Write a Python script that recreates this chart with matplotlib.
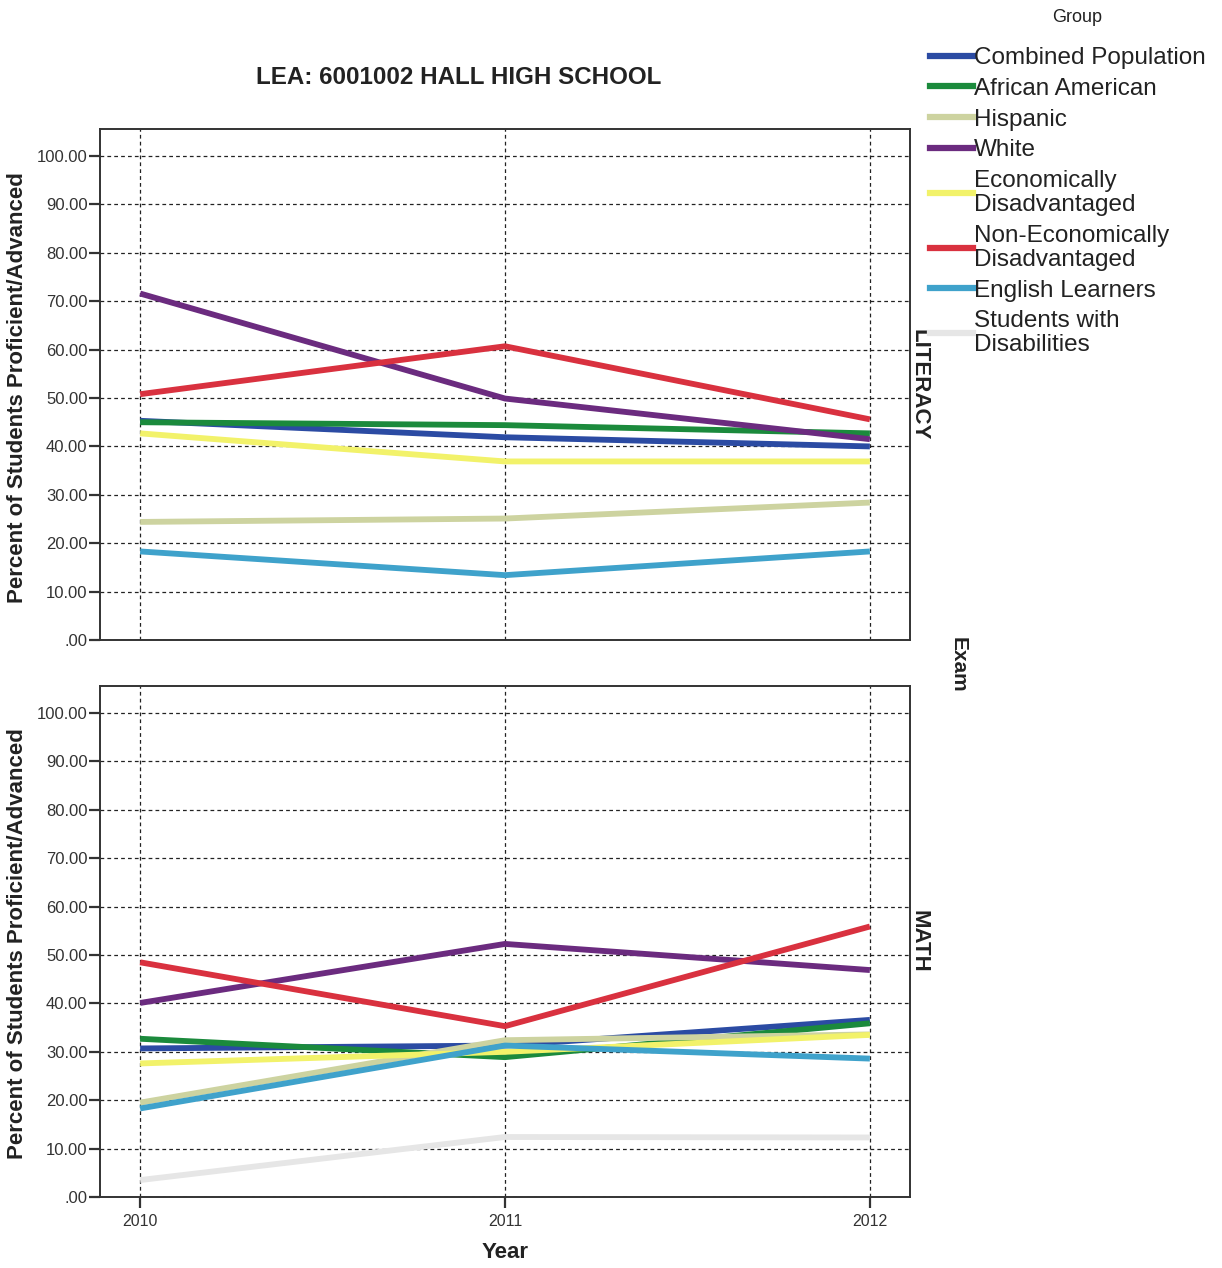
import numpy as np
import matplotlib
matplotlib.use("Agg")
import matplotlib.pyplot as plt
from matplotlib.ticker import FuncFormatter

plt.rcParams['font.family'] = ['Liberation Sans', 'DejaVu Sans']

# ---------------- data ----------------
years = [2010, 2011, 2012]
groups = ["Combined Population", "African American", "Hispanic", "White",
          "Economically\nDisadvantaged", "Non-Economically\nDisadvantaged",
          "English Learners", "Students with\nDisabilities"]
colors = ["#2b4ba3", "#1b8a3c", "#cdd3a0", "#6b2b7f", "#f2f26a",
          "#d9313f", "#3fa2cb", "#e6e6e6"]

lit_combined = [45.3, 41.9, 40.0]
lit_afam = [45.0, 44.4, 42.7]
lit_hisp = [24.4, 25.1, 28.4]
lit_white = [71.6, 49.9, 41.5]
lit_econ = [42.7, 36.9, 36.9]
lit_nonecon = [50.8, 60.7, 45.6]
lit_ell = [18.3, 13.4, 18.3]
lit_swd = [np.nan, np.nan, np.nan]

math_combined = [30.7, 31.3, 36.6]
math_afam = [32.7, 28.9, 35.9]
math_hisp = [19.5, 32.4, 33.6]
math_white = [40.1, 52.3, 46.9]
math_econ = [27.6, 30.0, 33.5]
math_nonecon = [48.5, 35.3, 55.9]
math_ell = [18.3, 31.3, 28.6]
math_swd = [3.5, 12.4, 12.3]

literacy = [lit_combined, lit_afam, lit_hisp, lit_white, lit_econ,
            lit_nonecon, lit_ell, lit_swd]
math = [math_combined, math_afam, math_hisp, math_white, math_econ,
        math_nonecon, math_ell, math_swd]

title = "LEA: 6001002 HALL HIGH SCHOOL"
ylabel = "Percent of Students Proficient/Advanced"

# ---------------- figure ----------------
W, H = 1222, 1268
fig = plt.figure(figsize=(W / 100, H / 100), dpi=100)

def fx(px):
    return px / W

def fy(py):
    return 1 - py / H

ax_lit = fig.add_axes([fx(100), fy(640), fx(910) - fx(100), fy(129) - fy(640)])
ax_math = fig.add_axes([fx(100), fy(1197), fx(910) - fx(100), fy(686) - fy(1197)])

def fmt(v, pos):
    s = f"{v:.2f}"
    if s.startswith("0."):
        s = s[1:]
    return s

for ax, data, lab in [(ax_lit, literacy, "LITERACY"), (ax_math, math, "MATH")]:
    for vals, c in zip(data, colors):
        ax.plot(years, vals, color=c, lw=4.2, solid_capstyle='butt')
    ax.set_xlim(2009.89, 2012.11)
    ax.set_ylim(0, 105.6)
    ax.set_yticks(np.arange(0, 101, 10))
    ax.yaxis.set_major_formatter(FuncFormatter(fmt))
    ax.set_xticks(years)
    ax.grid(True, color="#222222", ls=(0, (3, 2.5)), lw=0.9)
    ax.set_axisbelow(True)
    for s in ax.spines.values():
        s.set_color("#333333")
        s.set_linewidth(1.4)
    ax.tick_params(axis='y', direction='out', length=8, width=1.6,
                   labelsize=12, colors="#333333", pad=1)
    ax.tick_params(axis='x', direction='out', length=8, width=1.6,
                   labelsize=11.5, colors="#333333", pad=4)
    ax.text(1.011, 0.5, lab, transform=ax.transAxes, rotation=-90,
            ha='center', va='center', fontsize=16, fontweight='bold',
            color="#222222")

ax_lit.tick_params(axis='x', labelbottom=False, length=0)

fig.text(fx(459), fy(78), title, ha='center', va='center', fontsize=17.4,
         fontweight='bold', color="#222222")
fig.text(fx(18), fy(388), ylabel, rotation=90, ha='center', va='center',
         fontsize=16, fontweight='bold', color="#222222")
fig.text(fx(18), fy(944), ylabel, rotation=90, ha='center', va='center',
         fontsize=16, fontweight='bold', color="#222222")
fig.text(fx(505), fy(1253), "Year", ha='center', va='center', fontsize=16,
         fontweight='bold', color="#222222")
fig.text(fx(958), fy(665), "Exam", rotation=-90, ha='center', va='center',
         fontsize=15, fontweight='bold', color="#222222")

fig.text(fx(1077), fy(17), "Group", ha='center', va='center', fontsize=13,
         color="#222222")

handles = [plt.Line2D([], [], color=c, lw=4.5) for c in colors]
leg = fig.legend(handles, groups, loc='upper left',
                 bbox_to_anchor=(fx(930), fy(47)), frameon=False,
                 fontsize=17.5, handlelength=1.75, handletextpad=0.05,
                 labelspacing=0.36, borderpad=0, borderaxespad=0)
for t in leg.get_texts():
    t.set_linespacing(1.12)
    t.set_color("#222222")

fig.savefig("out.png", dpi=100, facecolor="white")
